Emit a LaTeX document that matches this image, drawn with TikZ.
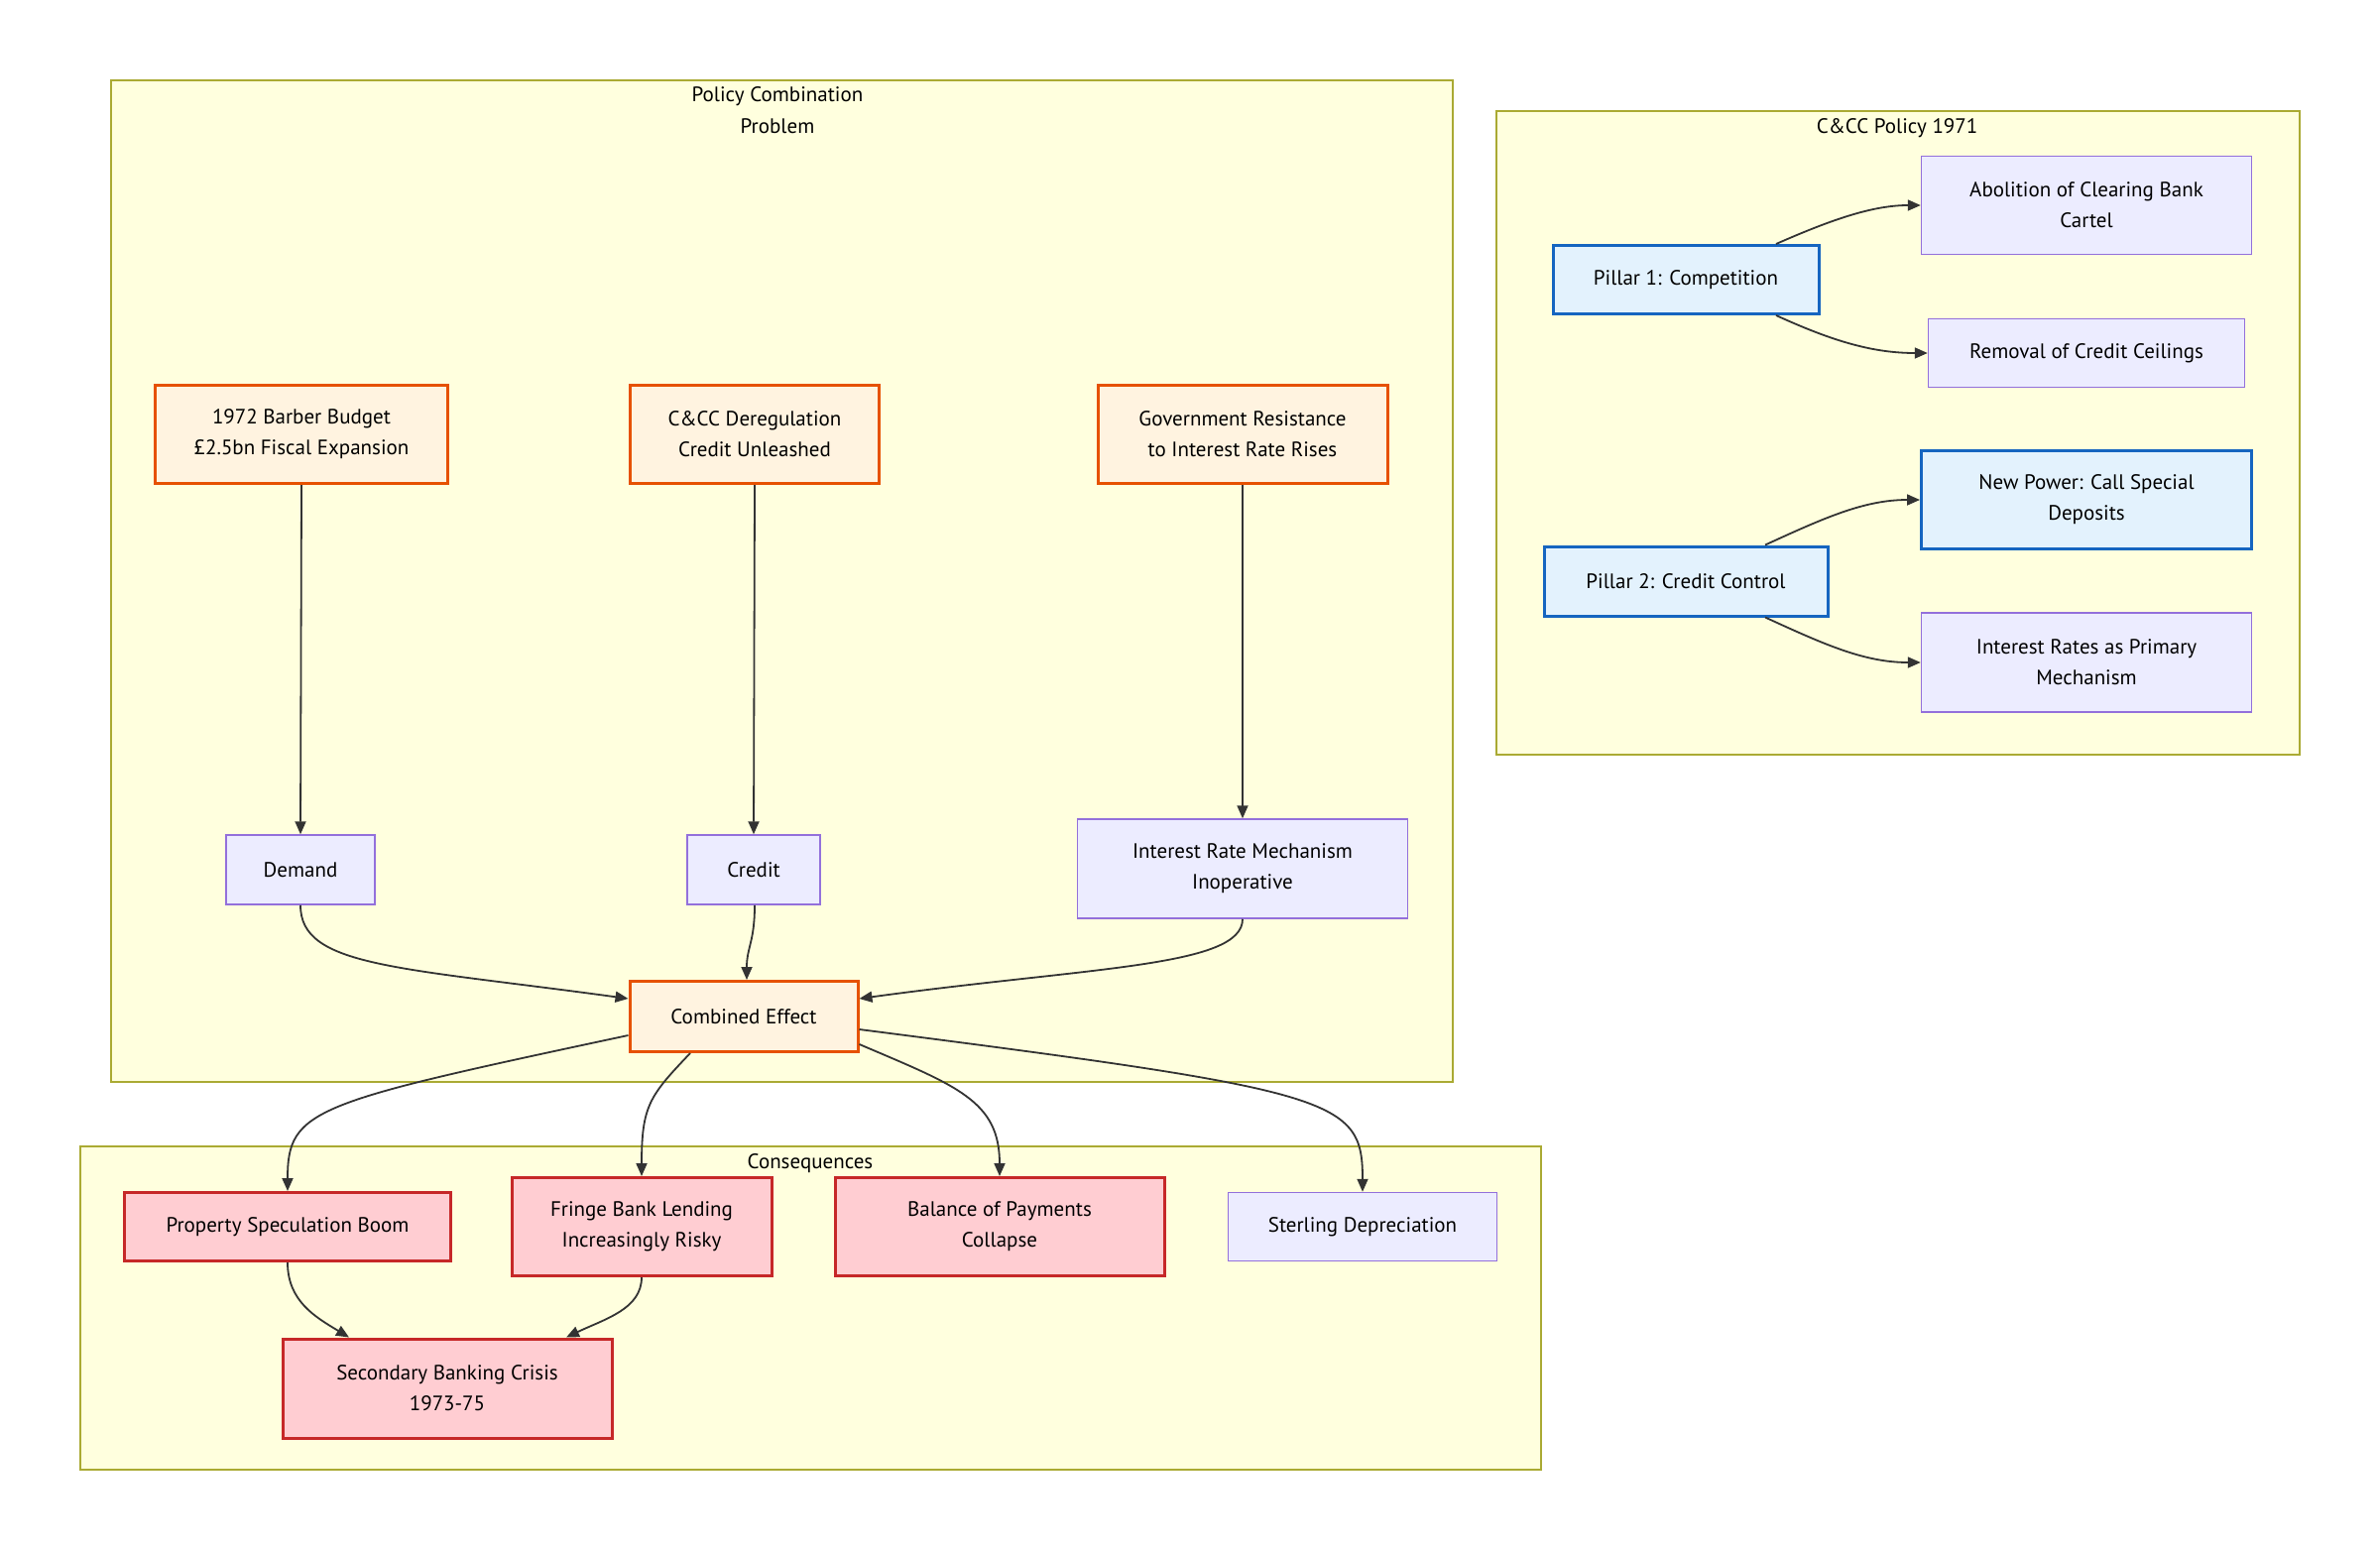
\documentclass[tikz,border=0pt]{standalone}
\usepackage{fontspec}
\setmainfont{PT Sans}
\usetikzlibrary{arrows.meta}
\definecolor{sgfill}{HTML}{FFFFDE}
\definecolor{sgline}{HTML}{AAAA33}
\definecolor{defill}{HTML}{ECECFF}
\definecolor{deline}{HTML}{9370DB}
\definecolor{orfill}{HTML}{FFF3E0}
\definecolor{orline}{HTML}{E65100}
\definecolor{blfill}{HTML}{E3F2FD}
\definecolor{blline}{HTML}{1565C0}
\definecolor{rdfill}{HTML}{FFCDD2}
\definecolor{rdline}{HTML}{C62828}
\definecolor{edgecol}{HTML}{333333}
\begin{document}
\begin{tikzpicture}[x=1pt,y=-1pt,
  box/.style={draw, rectangle, inner sep=0pt, align=center, font=\fontsize{21}{31}\selectfont, text=black},
  plnode/.style={box, fill=defill, draw=deline, line width=1.5pt},
  ornode/.style={box, fill=orfill, draw=orline, line width=3pt},
  blnode/.style={box, fill=blfill, draw=blline, line width=3pt},
  rdnode/.style={box, fill=rdfill, draw=rdline, line width=3pt},
  sz/.style 2 args={minimum width=#1pt, minimum height=#2pt},
  link/.style={draw=edgecol, line width=1.8pt, -{Triangle[length=13pt,width=11pt]}},
  sg/.style={draw=sgline, fill=sgfill, line width=1.5pt},
  sgtitle/.style={font=\fontsize{21}{32}\selectfont, align=center, inner sep=0pt}]
\useasboundingbox (0,0) rectangle (2400,1564);
\fill[white] (0,0) rectangle (2400,1564);

% subgraphs
\draw[sg] (112,81) rectangle (1465,1091);
\draw[sg] (1509,112) rectangle (2319,761);
\draw[sg] (81,1156) rectangle (1554,1482);
\node[sgtitle] (t1) at (784,111) {Policy Combination\\Problem};
\node[sgtitle] (t2) at (1913,129) {C\&CC Policy 1971};
\node[sgtitle] (t3) at (817,1173) {Consequences};

% Policy combination nodes
\node[ornode, sz={295}{99}] (barber) at (304,438) {1972 Barber Budget\\£2.5bn Fiscal Expansion};
\node[ornode, sz={251}{99}] (dereg) at (761,438) {C\&CC Deregulation\\Credit Unleashed};
\node[ornode, sz={292}{99}] (govt) at (1253,438) {Government Resistance\\to Interest Rate Rises};
\node[plnode, sz={150}{70}] (demand) at (303,877) {Demand};
\node[plnode, sz={134}{70}] (credit) at (760,877) {Credit};
\node[plnode, sz={333}{100}] (irm) at (1253,876) {Interest Rate Mechanism\\Inoperative};
\node[ornode, sz={230}{71}] (comb) at (750,1025) {Combined Effect};

% Consequences
\node[rdnode, sz={329}{69}] (prop) at (290,1237) {Property Speculation Boom};
\node[rdnode, sz={262}{99}] (fringe) at (647,1237) {Fringe Bank Lending\\Increasingly Risky};
\node[rdnode, sz={332}{99}] (bop) at (1008,1237) {Balance of Payments\\Collapse};
\node[plnode, sz={271}{69}] (sterl) at (1374,1237) {Sterling Depreciation};
\node[rdnode, sz={332}{100}] (sbc) at (451,1400) {Secondary Banking Crisis\\1973-75};

% C&CC policy
\node[blnode, sz={268}{69}] (p1) at (1700,282) {Pillar 1: Competition};
\node[plnode, sz={333}{99}] (abol) at (2104,207) {Abolition of Clearing Bank\\Cartel};
\node[plnode, sz={319}{69}] (remo) at (2104,356) {Removal of Credit Ceilings};
\node[blnode, sz={286}{70}] (p2) at (1700,586) {Pillar 2: Credit Control};
\node[blnode, sz={333}{99}] (newp) at (2104,504) {New Power: Call Special\\Deposits};
\node[plnode, sz={333}{100}] (irpm) at (2104,668) {Interest Rates as Primary\\Mechanism};

% edges: policy combination
\draw[link] (barber.south) -- (demand.north);
\draw[link] (dereg.south) -- (credit.north);
\draw[link] (govt.south) -- (irm.north);
\draw[link] (demand.south) .. controls (303,975) and (400,975) .. ([yshift=18pt]comb.west);
\draw[link] ([xshift=1pt]credit.south) .. controls (761,950) and (753,955) .. ([xshift=3pt]comb.north);
\draw[link] (irm.south) .. controls (1253,975) and (1100,975) .. ([yshift=18pt]comb.east);

% edges: consequences
\draw[link] ([yshift=-19pt]comb.west) .. controls (315,1112) and (290,1118) .. (prop.north);
\draw[link] ([xshift=-54pt]comb.south) .. controls (655,1105) and (647,1115) .. (fringe.north);
\draw[link] ([yshift=-28pt]comb.east) .. controls (965,1095) and (1008,1110) .. (bop.north);
\draw[link] ([yshift=-13pt]comb.east) .. controls (1350,1100) and (1374,1108) .. (sterl.north);
\draw[link] (prop.south) .. controls (290,1312) and (318,1328) .. ([xshift=-99pt]sbc.north);
\draw[link] (fringe.south) .. controls (647,1320) and (610,1330) .. ([xshift=120pt]sbc.north);

% edges: C&CC policy
\draw[link] ([xshift=91pt]p1.north) .. controls (1850,220) and (1890,207) .. (abol.west);
\draw[link] ([xshift=91pt]p1.south) .. controls (1850,345) and (1890,356) .. (remo.west);
\draw[link] ([xshift=80pt]p2.north) .. controls (1840,522) and (1880,504) .. (newp.west);
\draw[link] ([xshift=80pt]p2.south) .. controls (1840,650) and (1880,668) .. (irpm.west);
\end{tikzpicture}
\end{document}
